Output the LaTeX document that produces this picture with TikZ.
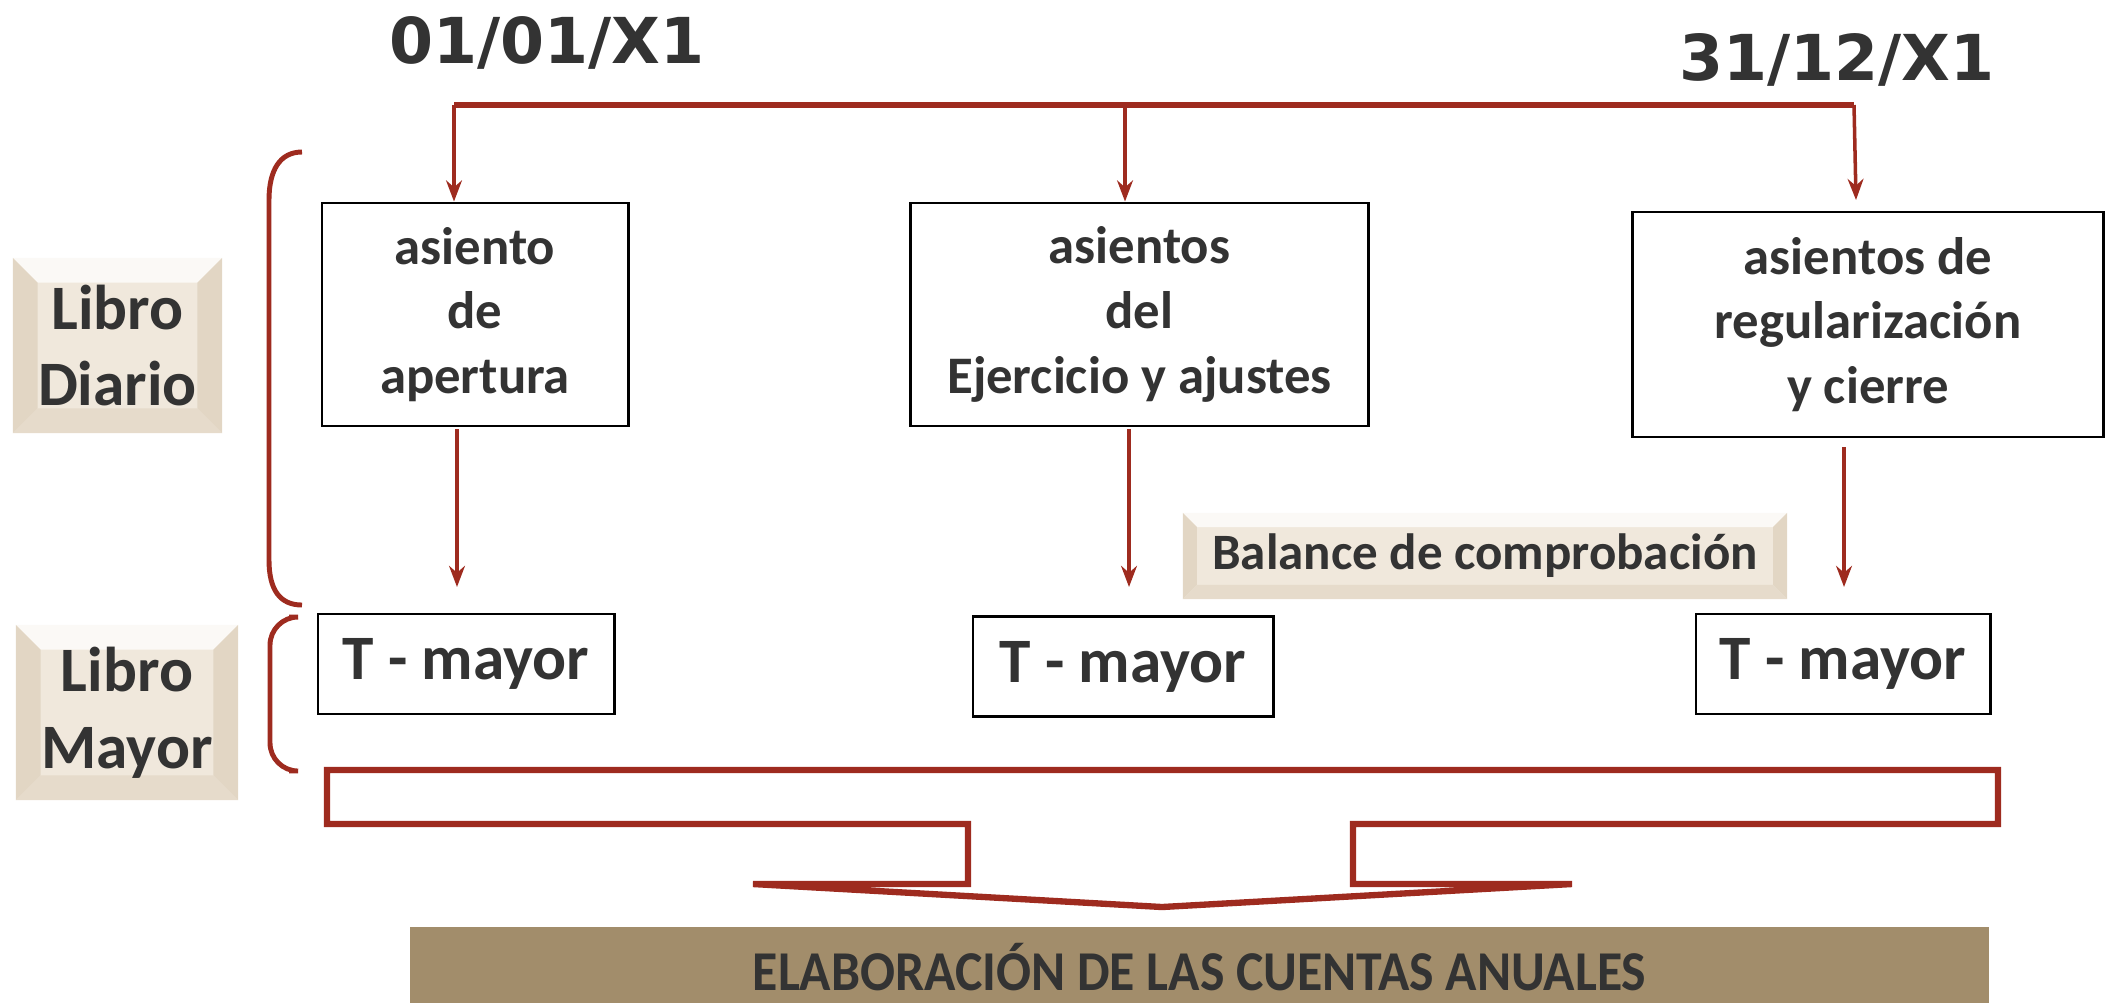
\documentclass[tikz,border=0pt]{standalone}
\usepackage{fontspec}
\setmainfont{Carlito}
\newfontfamily\fechafont{DejaVu Sans}
\usetikzlibrary{positioning,arrows.meta}
\definecolor{flecha}{RGB}{158,43,31}
\definecolor{texto}{RGB}{51,51,51}
\definecolor{papel}{RGB}{240,232,220}
\definecolor{papelosc}{RGB}{226,214,196}
\definecolor{cuentas}{RGB}{162,141,107}

\tikzset{
  relieve/.style={fill=papel, path picture={
    \fill[white!75!papel] (path picture bounding box.north west) -- (path picture bounding box.north east)
      -- ([xshift=-#1,yshift=-#1]path picture bounding box.north east) -- ([xshift=#1,yshift=-#1]path picture bounding box.north west) -- cycle;
    \fill[papelosc] (path picture bounding box.north west) -- ([xshift=#1,yshift=-#1]path picture bounding box.north west)
      -- ([xshift=#1,yshift=#1]path picture bounding box.south west) -- (path picture bounding box.south west) -- cycle;
    \fill[papelosc] (path picture bounding box.north east) -- ([xshift=-#1,yshift=-#1]path picture bounding box.north east)
      -- ([xshift=-#1,yshift=#1]path picture bounding box.south east) -- (path picture bounding box.south east) -- cycle;
    \fill[papelosc!70!papel] (path picture bounding box.south west) -- ([xshift=#1,yshift=#1]path picture bounding box.south west)
      -- ([xshift=-#1,yshift=#1]path picture bounding box.south east) -- (path picture bounding box.south east) -- cycle;
  }},
}

\begin{document}
\begin{tikzpicture}[x=0.01cm, y=-0.01cm, text=texto,
    caja/.style={draw=black, line width=0.8pt, align=center, inner sep=0pt,
      font=\fontsize{15}{18.4}\selectfont\bfseries},
    tmayor/.style={draw=black, line width=0.8pt, inner sep=0pt, minimum height=1cm,
      font=\fontsize{18}{22}\selectfont\bfseries},
    libro/.style={relieve=7pt, align=center, inner sep=0pt, minimum height=1.75cm,
      font=\fontsize{18}{21.8}\selectfont\bfseries},
    fecha/.style={font=\fechafont\fontsize{18}{22}\selectfont\bfseries},
    flechita/.style={draw=flecha, line width=1pt, -{Stealth[length=6pt,width=4.5pt]}},
    llave/.style={draw=flecha, line width=1.4pt}]
  \useasboundingbox (0,0) rectangle (2107,1002);

  % fechas
  \node[fecha] (inicio) at (547,43) {01/01/X1};
  \node[fecha] (cierre) at (1837,60) {31/12/X1};

  % libros
  \node[libro, minimum width=2.09cm] (diario) at (117.5,345.5) {Libro\\Diario};
  \node[libro, minimum width=2.22cm] (mayor) at (127,712.5) {Libro\\Mayor};

  % asientos
  \node[caja, minimum width=3.06cm, minimum height=2.23cm] (apertura) at (475,314.5) {asiento\\de\\apertura};
  \node[caja, minimum width=4.57cm, minimum height=2.23cm] (ejercicio) at (1139.5,314.5) {asientos\\del\\Ejercicio y ajustes};
  \node[caja, minimum width=4.70cm, minimum height=2.25cm] (regul) at (1868,324.5) {asientos de\\regularizaci\'on\\y cierre};

  % cuentas T
  \node[tmayor, minimum width=2.96cm] (tA) at (466,664) {T - mayor};
  \node[tmayor, minimum width=3.00cm] (tB) at (1123,666.5) {T - mayor};
  \node[tmayor, minimum width=2.94cm] (tC) at (1843,664) {T - mayor};

  \node[relieve=4pt, minimum width=6.04cm, minimum height=0.86cm, inner sep=0pt,
    font=\fontsize{14.5}{17}\selectfont\bfseries] (balance) at (1485,556) {Balance de comprobaci\'on};

  % linea de tiempo
  \coordinate (barA) at (454,105);
  \coordinate (barB) at (1125,105);
  \coordinate (barC) at (1854,105);
  \coordinate (finC) at (1856,200);
  \draw[flecha, line width=1.5pt] (barA) -- (barC);
  \draw[flechita] (barA) -- (barA |- apertura.north);
  \draw[flechita] (barB) -- (barB |- ejercicio.north);
  \draw[flechita] (barC) -- (finC);

  % del diario al mayor
  \draw[flechita, shorten >=0.27cm] (457,429) -- (457,614);
  \draw[flechita, shorten >=0.30cm] (1129,429) -- (1129,617);
  \draw[flechita, shorten >=0.27cm] (1844,447) -- (1844,614);

  % llaves
  \draw[llave] (302,152) .. controls (280,152) and (269,170) .. (269,200) -- (269,560)
    .. controls (269,590) and (280,605) .. (302,605);
  \draw[llave, rounded corners=8pt] (289,617) -- (270,617) -- (270,771) -- (289,771);

  % flecha grande
  \draw[flecha, line width=1.8pt] (327,770) -- (1998,770) -- (1998,824) -- (1353,824) -- (1353,884)
    -- (1572,884) -- (1162,907) -- (753,884) -- (968,884) -- (968,824) -- (327,824) -- cycle;

  \fill[cuentas] (410,927) rectangle (1989,1010);
  \node[font=\fontsize{16}{19}\selectfont\bfseries] (anuales) at (1199.5,967)
    {\scalebox{0.92}[1]{ELABORACI\'ON DE LAS CUENTAS ANUALES}};
\end{tikzpicture}
\end{document}
